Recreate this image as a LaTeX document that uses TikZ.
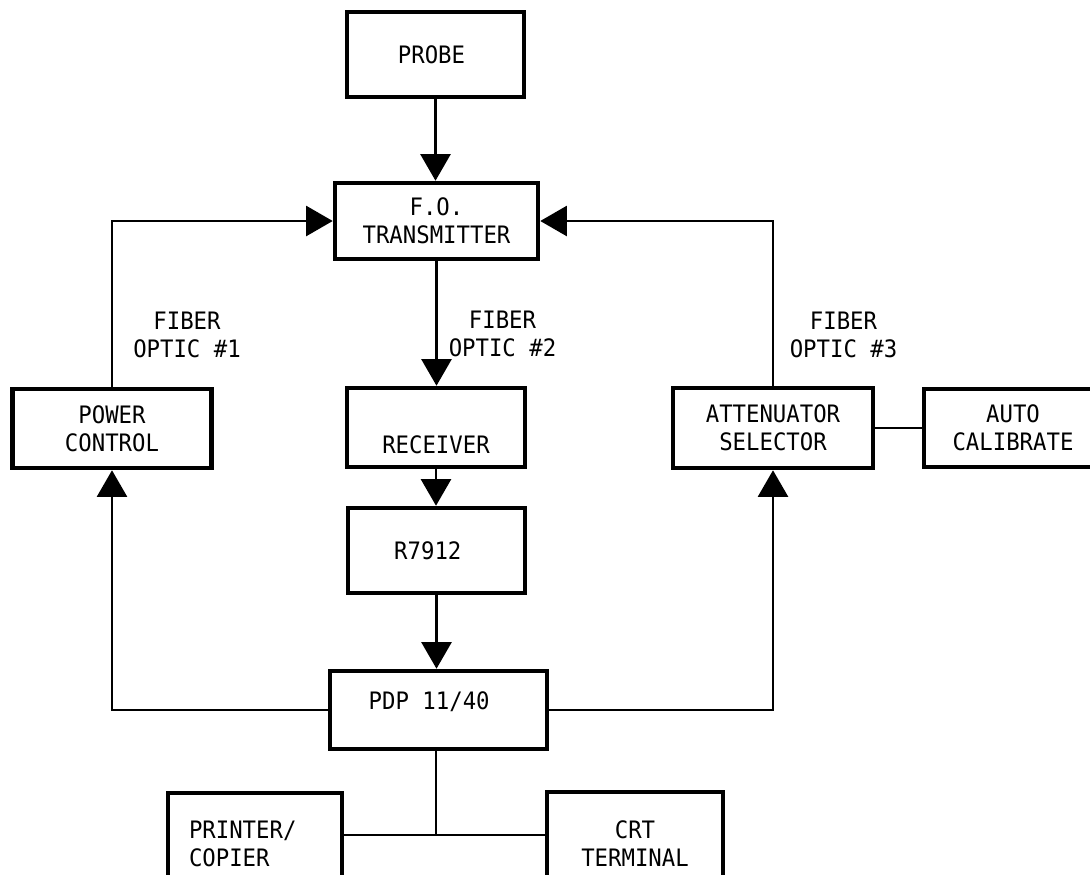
\documentclass[tikz,border=0pt]{standalone}
\usepackage{fontspec}
\newfontfamily\lettering[FakeStretch=0.93]{DejaVu Sans Mono}
\usetikzlibrary{arrows.meta}
\begin{document}
\begin{tikzpicture}[x=0.75pt,y=-0.75pt,
  txtfont/.style={font=\lettering\fontsize{18}{21}\selectfont},
  box/.style={draw, line width=3.4pt, inner sep=0pt, align=center, txtfont},
  lbl/.style={inner sep=0pt, align=center, txtfont},
  conn/.style={line width=2.1pt},
  arr/.style={conn, -{Triangle[length=20pt,width=22.5pt]}}]
\useasboundingbox (0,0) rectangle (1090,875);
\clip (0,0) rectangle (1090,875);

% blocks
\node[box, minimum width=177*0.75pt, minimum height=85*0.75pt] (probe) at (435.5,54.5) {PROBE\hspace{6pt}};
\node[box, minimum width=203*0.75pt, minimum height=76*0.75pt] (fo) at (436.5,221) {F.O.\\TRANSMITTER};
\node[box, minimum width=199*0.75pt, minimum height=79*0.75pt] (pwr) at (112,428.5) {POWER\\CONTROL};
\node[box, minimum width=178*0.75pt, minimum height=79*0.75pt] (rcv) at (436,427.5) {\raisebox{-13pt}[\height][\depth]{RECEIVER}};
\node[box, minimum width=200*0.75pt, minimum height=80*0.75pt] (att) at (773,428) {ATTENUATOR\\SELECTOR};
\node[box, minimum width=178*0.75pt, minimum height=78*0.75pt] (auto) at (1013,428) {AUTO\\CALIBRATE};
\node[box, minimum width=177*0.75pt, minimum height=85*0.75pt] (r7912) at (436.5,550.5) {R7912\hspace{13pt}};
\node[box, minimum width=217*0.75pt, minimum height=78*0.75pt] (pdp) at (438.5,710) {\raisebox{6pt}[\height][\depth]{PDP 11/40\hspace{14pt}}};
\node[box, minimum width=174*0.75pt, minimum height=102*0.75pt, inner xsep=15.75pt, text width=132*0.75pt, align=left] (prn) at (255,844) {PRINTER/\\COPIER};
\node[box, minimum width=176*0.75pt, minimum height=103*0.75pt] (crt) at (635,843.5) {CRT\\TERMINAL};

% fiber labels
\node[lbl] (f1) at (187,334.5) {FIBER\\OPTIC \#1};
\node[lbl] (f2) at (502.5,333.5) {FIBER\\OPTIC \#2};
\node[lbl] (f3) at (843.5,334.5) {FIBER\\OPTIC \#3};

% connectors
\draw[arr] (probe.south) -- (probe.south |- fo.north);
\draw[arr] (fo.south) -- (fo.south |- rcv.north);
\draw[arr] (rcv.south) -- (rcv.south |- r7912.north);
\draw[arr] (r7912.south) -- (r7912.south |- pdp.north);
\draw[arr] (pwr.north) |- (fo.west);
\draw[arr] (att.north) |- (fo.east);
\draw[arr] (pdp.west) -| (pwr.south);
\draw[arr] (pdp.east) -| (att.south);
\draw[conn] (att.east) -- (auto.west);
\coordinate (bus) at (436,835);
\draw[conn] (pdp.south -| bus) -- (bus);
\draw[conn] (prn.east |- bus) -- (crt.west |- bus);
\end{tikzpicture}
\end{document}
